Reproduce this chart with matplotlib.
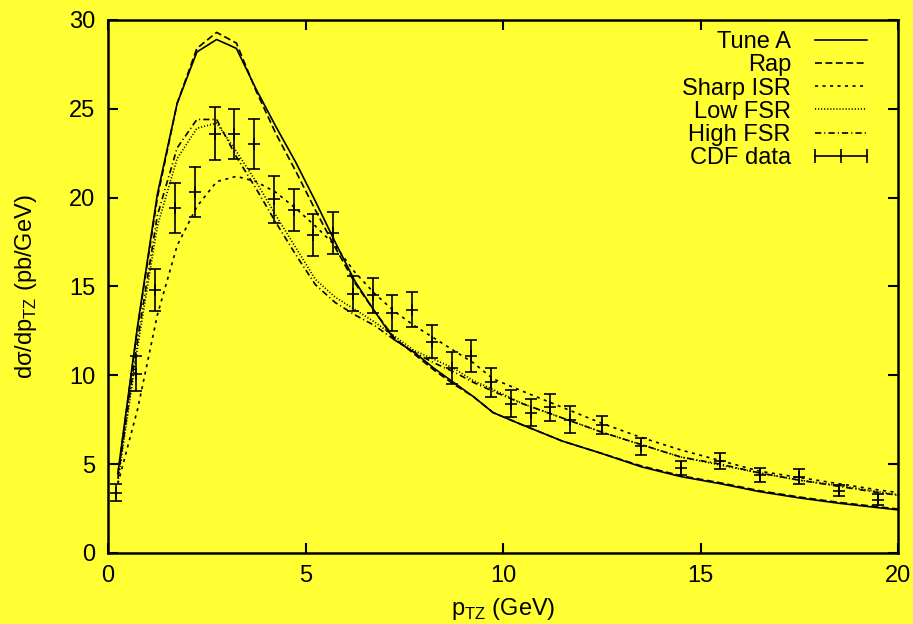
import matplotlib
matplotlib.use("Agg")
import matplotlib.pyplot as plt
from matplotlib.lines import Line2D

plt.rcParams['font.family'] = ['Liberation Sans', 'DejaVu Sans']
plt.rcParams['lines.scale_dashes'] = False

# model curves (bin centres)
pt = [0.25, 0.75, 1.25, 1.75, 2.25, 2.75, 3.25, 3.75, 4.25, 4.75,
      5.25, 5.75, 6.25, 6.75, 7.25, 7.75, 8.25, 8.75, 9.25, 9.75,
      10.5, 11.5, 12.5, 13.5, 14.5, 15.5, 16.5, 17.5, 18.5, 19.5, 20.5]
tune_a = [4.5, 12.8, 20.2, 25.3, 28.2, 28.9, 28.4, 26.1, 24.0, 22.0,
          19.8, 17.5, 15.3, 13.6, 12.0, 11.3, 10.4, 9.6, 8.8, 7.9,
          7.2, 6.3, 5.6, 4.85, 4.3, 3.9, 3.45, 3.1, 2.8, 2.55, 2.3]
rap = [4.4, 12.7, 20.0, 25.3, 28.4, 29.3, 28.7, 26.0, 23.6, 21.5,
       19.3, 17.2, 15.2, 13.6, 12.1, 11.2, 10.3, 9.5, 8.8, 7.9,
       7.2, 6.3, 5.6, 4.9, 4.35, 3.95, 3.5, 3.15, 2.85, 2.6, 2.35]
sharp_isr = [3.9, 8.1, 13.4, 17.3, 19.5, 20.9, 21.2, 20.9, 20.3, 19.4,
             18.4, 17.3, 15.8, 14.6, 13.6, 12.8, 12.1, 11.4, 10.7, 9.8,
             9.1, 8.2, 7.3, 6.5, 5.8, 5.2, 4.6, 4.25, 3.9, 3.55, 3.25]
low_fsr = [4.0, 11.6, 18.4, 22.2, 23.9, 24.2, 22.6, 20.9, 19.0, 17.2,
           15.4, 14.4, 13.7, 13.0, 12.2, 11.4, 10.9, 10.4, 9.7, 9.2,
           8.4, 7.6, 6.8, 6.1, 5.4, 4.95, 4.5, 4.1, 3.8, 3.45, 3.1]
high_fsr = [4.2, 12.0, 19.0, 22.8, 24.4, 24.4, 22.3, 20.5, 18.6, 16.8,
            15.1, 14.1, 13.4, 12.8, 12.0, 11.3, 10.7, 10.2, 9.6, 9.1,
            8.4, 7.6, 6.8, 6.1, 5.4, 5.0, 4.5, 4.1, 3.75, 3.4, 3.1]

# CDF data
cdf_x = [0.2, 0.7, 1.2, 1.7, 2.2, 2.7, 3.2, 3.7, 4.2, 4.7, 5.2, 5.7,
         6.2, 6.7, 7.2, 7.7, 8.2, 8.7, 9.2, 9.7, 10.2, 10.7, 11.2, 11.7,
         12.5, 13.5, 14.5, 15.5, 16.5, 17.5, 18.5, 19.5]
cdf_y = [3.4, 10.1, 14.8, 19.4, 20.3, 23.6, 23.6, 23.0, 19.9, 19.3, 17.9, 18.0,
         14.6, 14.5, 13.5, 13.7, 11.9, 10.4, 11.1, 9.6, 8.4, 7.9, 8.2, 7.5,
         7.2, 6.0, 4.8, 5.2, 4.4, 4.3, 3.5, 3.0]
cdf_err = [0.5, 1.0, 1.2, 1.4, 1.4, 1.5, 1.4, 1.4, 1.3, 1.2, 1.2, 1.2,
           1.0, 1.0, 1.0, 1.0, 0.95, 0.9, 0.9, 0.8, 0.75, 0.75, 0.75, 0.75,
           0.5, 0.5, 0.4, 0.45, 0.4, 0.4, 0.3, 0.3]

bg = '#ffff33'
fig = plt.figure(figsize=(9.13, 6.24), dpi=100, facecolor=bg)
ax = fig.add_axes([0.1183, 0.1138, 0.8653, 0.8542])
ax.set_facecolor(bg)

lw = 1.2
ax.plot(pt, tune_a, color='k', lw=lw, label='Tune A')
ax.plot(pt, rap, color='k', lw=lw, dashes=(5, 2.5), label='Rap')
ax.plot(pt, sharp_isr, color='k', lw=lw, dashes=(2.2, 3.2), label='Sharp ISR')
ax.plot(pt, low_fsr, color='k', lw=lw, dashes=(0.8, 1.4), label='Low FSR')
ax.plot(pt, high_fsr, color='k', lw=lw, dashes=(4.5, 2.2, 0.8, 2.2), label='High FSR')
ax.errorbar(cdf_x, cdf_y, yerr=cdf_err, fmt='none', ecolor='k', elinewidth=lw,
            capsize=4, capthick=lw)
ax.plot(cdf_x, cdf_y, ls='none', marker='+', color='k', ms=9, mew=lw)

ax.set_xlim(0, 20)
ax.set_ylim(0, 30)
ax.set_xticks([0, 5, 10, 15, 20])
ax.set_yticks([0, 5, 10, 15, 20, 25, 30])
fs = 17
ax.tick_params(direction='in', length=7, width=1.5, top=True, right=True,
               labelsize=fs, pad=9)
for s in ax.spines.values():
    s.set_linewidth(1.8)

ax.set_xlabel(r'p$_\mathregular{TZ}$ (GeV)', fontsize=fs, labelpad=6)
ax.set_ylabel('dσ/dp$_\\mathregular{TZ}$ (pb/GeV)', fontsize=fs, labelpad=22)

handles, labels = ax.get_legend_handles_labels()
handles.append(Line2D([], [], color='k', lw=lw, marker='|', ms=10, mew=lw))
labels.append('CDF data')
ax.legend(handles, labels, loc='upper right', bbox_to_anchor=(0.99, 1.01),
          frameon=False, markerfirst=False, numpoints=3, fontsize=fs,
          handlelength=2.8, handletextpad=0.7, labelspacing=0.05,
          borderaxespad=0.3)

fig.savefig('out.png', dpi=100, facecolor=bg)
